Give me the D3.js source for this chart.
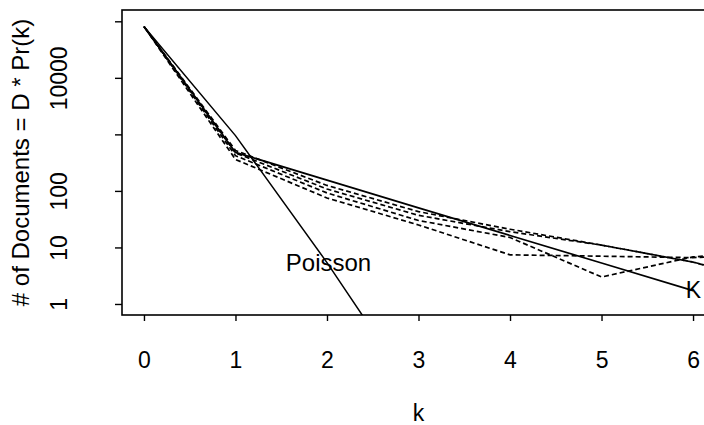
<!DOCTYPE html>
<html>
<head>
<meta charset="utf-8">
<script src="https://cdn.jsdelivr.net/npm/d3@7"></script>
<style>
  body { margin: 0; background: #fff; }
  text { font-family: "Liberation Sans", Arial, Helvetica, sans-serif; }
</style>
</head>
<body>
<script>
// counts of documents with k occurrences
var kObs = [0, 1, 2, 3, 4, 5, 6, 7];
var emp1 = [81000, 520, 125, 43, 21, 11, 5.5, 2];
var emp2 = [81000, 470, 108, 37, 19, 11, 5.5, 2.2];
var emp3 = [81000, 420, 92, 30, 15, 3.0, 6.8, 9];
var emp4 = [81000, 360, 75, 25, 7.4, 7.0, 6.6, 8];

var kModel = [0, 1, 2, 3, 4, 5, 6];
var kMix = [81000, 480, 155, 50, 16.3, 5.3, 1.72];
var kPois = [0, 1, 2, 3];
var poisson = [81000, 950, 5.4, 0.021];

var xTicks = [0, 1, 2, 3, 4, 5, 6];
var yTicks = [1, 10, 100, 1000, 10000, 100000];
var yLabels = ["1", "10", "100", "", "10000", ""];

var w = 704, h = 425;
var pLeft = 122, pRight = 715, pTop = 10, pBottom = 315;

var svg = d3.select("body").append("svg")
    .attr("width", w)
    .attr("height", h);

var x = d3.scaleLinear().domain([-0.24, 6.24]).range([pLeft, pRight]);
var y = d3.scaleLog().domain([Math.pow(10, -0.195), Math.pow(10, 5.2)]).range([pBottom, pTop]);

svg.append("clipPath").attr("id", "clip")
    .append("rect")
    .attr("x", pLeft).attr("y", pTop)
    .attr("width", pRight - pLeft).attr("height", pBottom - pTop);

var line = d3.line()
    .x(function(d){ return x(d[0]); })
    .y(function(d){ return y(d[1]); });

function pairs(ks, vs){
    return ks.map(function(k, i){ return [k, vs[i]]; });
}

var plot = svg.append("g").attr("clip-path", "url(#clip)");

// empirical curves, dashed
[emp1, emp2, emp3, emp4].forEach(function(s, i){
    plot.append("path")
        .attr("d", line(pairs(kObs, s)))
        .attr("fill", "none")
        .attr("stroke", "#000")
        .attr("stroke-width", 1.7)
        .attr("stroke-dasharray", "5,3")
        .attr("stroke-dashoffset", i * 2);
});

// K mixture and Poisson, solid
plot.append("path")
    .attr("d", line(pairs(kModel, kMix)))
    .attr("fill", "none")
    .attr("stroke", "#000")
    .attr("stroke-width", 1.7);

plot.append("path")
    .attr("d", line(pairs(kPois, poisson)))
    .attr("fill", "none")
    .attr("stroke", "#000")
    .attr("stroke-width", 1.5);

// box
svg.append("rect")
    .attr("x", pLeft).attr("y", pTop)
    .attr("width", pRight - pLeft).attr("height", pBottom - pTop)
    .attr("fill", "none")
    .attr("stroke", "#000")
    .attr("stroke-width", 1.6);

// axes
var xAxis = svg.append("g")
    .attr("transform", "translate(0," + pBottom + ")")
    .call(d3.axisBottom(x).tickValues(xTicks).tickSize(6).tickFormat(d3.format("d")));
xAxis.select(".domain").remove();
xAxis.selectAll("line").attr("stroke-width", 1.4);
xAxis.selectAll("text")
    .attr("y", 53).attr("dy", 0)
    .attr("font-size", 23)
    .attr("font-family", "Liberation Sans, Arial, sans-serif")
    .attr("fill", "#000");

var yAxis = svg.append("g")
    .attr("transform", "translate(" + pLeft + ",0)")
    .call(d3.axisLeft(y).tickValues(yTicks).tickSize(7)
        .tickFormat(function(d, i){ return yLabels[i]; }));
yAxis.select(".domain").remove();
yAxis.selectAll("line").attr("stroke-width", 1.4);
yAxis.selectAll("text")
    .attr("x", 0).attr("dy", 0)
    .attr("transform", "translate(-55,0) rotate(-90)")
    .attr("text-anchor", "middle")
    .attr("font-size", 23)
    .attr("font-family", "Liberation Sans, Arial, sans-serif")
    .attr("fill", "#000");

// axis titles
svg.append("text")
    .attr("x", (pLeft + pRight) / 2)
    .attr("y", 421)
    .attr("text-anchor", "middle")
    .attr("font-size", 23)
    .text("k");

svg.append("text")
    .attr("transform", "translate(29," + ((pTop + pBottom) / 2) + ") rotate(-90)")
    .attr("text-anchor", "middle")
    .attr("font-size", 24)
    .text("# of Documents = D * Pr(k)");

// curve labels
svg.append("text")
    .attr("x", x(1.55)).attr("y", y(3.8))
    .attr("font-size", 24)
    .text("Poisson");

svg.append("text")
    .attr("x", x(5.92)).attr("y", y(1.28))
    .attr("font-size", 23)
    .text("K");
</script>
</body>
</html>
